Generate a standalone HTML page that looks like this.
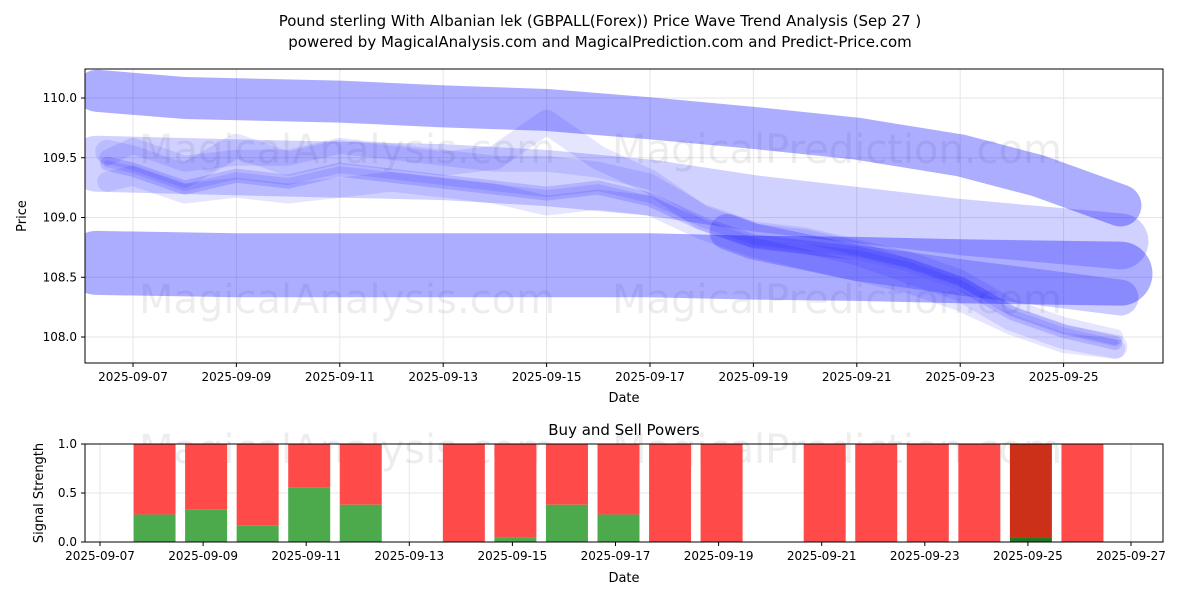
<!DOCTYPE html>
<html><head><meta charset="utf-8"><style>
body{margin:0;background:#fff;font-family:"Liberation Sans","DejaVu Sans",sans-serif}
svg text{font-family:"DejaVu Sans","Liberation Sans",sans-serif}
</style></head><body>
<svg id="c" width="1200" height="600" viewBox="0 0 1200 600">
<defs><clipPath id="clipTop"><rect x="85" y="69" width="1078" height="294"/></clipPath></defs>
<text x="600" y="26" text-anchor="middle" font-size="15">Pound sterling With Albanian lek (GBPALL(Forex)) Price Wave Trend Analysis (Sep 27 )</text>
<text x="600" y="47" text-anchor="middle" font-size="15">powered by MagicalAnalysis.com and MagicalPrediction.com and Predict-Price.com</text>
<g id="topg"></g><g id="botg"></g>
</svg>
<script>
// ---- data ----
const bandA_days=[6.3,8,11,13,15,17,19,21,23,24.5,26.1];
const bandA_prices=[110.06,110.0,109.97,109.93,109.9,109.83,109.75,109.66,109.52,109.35,109.1];
const bandB_days=[6.3,9,11,13,15,17,19,21,23,26.1];
const bandB_prices=[108.62,108.6,108.6,108.6,108.6,108.6,108.58,108.57,108.55,108.53];
const bandC_days=[18.5,19,21,23,26.1];
const bandC_prices=[108.88,108.8,108.62,108.5,108.33];
const bandD_days=[6.3,9,11,13,15,17,19,21,23,26.1];
const bandD_prices=[109.45,109.42,109.4,109.38,109.33,109.25,109.12,109.02,108.92,108.8];
const core_days=[6.5,7,8,9,10,11,12,13,14,15,16,17,18,19,20,21,22,23,24,25,26];
const core1=[109.45,109.4,109.25,109.35,109.3,109.4,109.35,109.3,109.25,109.2,109.25,109.15,108.95,108.8,108.75,108.7,108.6,108.45,108.2,108.05,107.95];
const core2=[109.55,109.5,109.35,109.6,109.45,109.55,109.5,109.45,109.5,109.8,109.5,109.3,109.0,108.85,108.8,108.7,108.55,108.4,108.15,108.0,107.92];
const core3=[109.3,109.35,109.2,109.25,109.2,109.25,109.3,109.25,109.2,109.1,109.15,109.1,108.9,108.75,108.65,108.55,108.45,108.3,108.1,107.95,107.9];
const core4=[109.5,109.6,109.45,109.5,109.5,109.6,109.55,109.5,109.45,109.45,109.4,109.3,109.05,108.9,108.85,108.75,108.65,108.5,108.25,108.1,108.0];
const yTicks=[108.0,108.5,109.0,109.5,110.0];
const xTickDays=[7,9,11,13,15,17,19,21,23,25];
const barDays=[8,9,10,11,12,14,15,16,17,18,19,21,22,23,24,25,26];
const buyVals=[0.28,0.33,0.17,0.56,0.38,0,0.05,0.38,0.28,0,0,0,0,0,0,0.05,0];
const botTickDays=[7,9,11,13,15,17,19,21,23,25,27];
const sTicks=[0,0.5,1.0];
// ---- helpers ----
const NS="http://www.w3.org/2000/svg";
function mk(p,t,a){const e=document.createElementNS(NS,t);for(const k in a)e.setAttribute(k,a[k]);p.appendChild(e);return e;}
const dstr=d=>"2025-09-"+String(d).padStart(2,"0");
const T={l:85,r:1163,t:69,b:363};
const tx=d=>133+(d-7)*51.7;
const ty=p=>337-(p-108)*119.5;
const topG=document.getElementById('topg');
mk(topG,'rect',{x:T.l,y:T.t,width:T.r-T.l,height:T.b-T.t,fill:'#fff'});
yTicks.forEach(v=>{const l=mk(topG,'line',{x1:T.l,x2:T.r,y1:ty(v),y2:ty(v),stroke:'#e6e6e6'});
});
xTickDays.forEach(d=>{const l=mk(topG,'line',{x1:tx(d),x2:tx(d),y1:T.t,y2:T.b,stroke:'#e6e6e6'});
});
function wm(g,x,y,s,t){const e=mk(g,'text',{x:x,y:y,'font-size':s,fill:'#000','fill-opacity':0.07,'text-anchor':'middle'});e.textContent=t;
}
wm(topG,347,163,40,'MagicalAnalysis.com');wm(topG,837,163,40,'MagicalPrediction.com');
wm(topG,347,313,40,'MagicalAnalysis.com');wm(topG,837,313,40,'MagicalPrediction.com');
const waves=mk(topG,'g',{'clip-path':'url(#clipTop)'});
function band(days,prices,w,op,name){const pts=days.map((d,i)=>tx(d)+','+ty(prices[i])).join(' ');
const e=mk(waves,'polyline',{points:pts,fill:'none',stroke:'#0000ff','stroke-opacity':op,'stroke-width':w,'stroke-linecap':'round','stroke-linejoin':'round'});
}
band(bandA_days,bandA_prices,42,0.32,'wave-band-upper');
band(bandB_days,bandB_prices,64,0.32,'wave-band-lower');
band(bandC_days,bandC_prices,36,0.2,'wave-band-lower-2');
band(bandD_days,bandD_prices,56,0.18,'wave-band-mid');
band(core_days,core2,24,0.1,'wave-core-2');
band(core_days,core3,20,0.1,'wave-core-3');
band(core_days,core4,16,0.1,'wave-core-4');
band(core_days,core1,14,0.14,'wave-core-1');
band(core_days,core1,7,0.1,'wave-core-1-inner');
mk(topG,'rect',{x:T.l,y:T.t,width:T.r-T.l,height:T.b-T.t,fill:'none',stroke:'#000'});
yTicks.forEach(v=>{mk(topG,'line',{x1:T.l-4,x2:T.l,y1:ty(v),y2:ty(v),stroke:'#000'});
const e=mk(topG,'text',{x:T.l-8,y:ty(v)+4,'font-size':12,'text-anchor':'end'});e.textContent=v.toFixed(1);
});
xTickDays.forEach(d=>{mk(topG,'line',{x1:tx(d),x2:tx(d),y1:T.b,y2:T.b+4,stroke:'#000'});
const e=mk(topG,'text',{x:tx(d),y:T.b+18,'font-size':12,'text-anchor':'middle'});e.textContent=dstr(d);
});
let e=mk(topG,'text',{x:624,y:402,'font-size':13,'text-anchor':'middle'});e.textContent='Date';

e=mk(topG,'text',{x:26,y:216,'font-size':13,'text-anchor':'middle',transform:'rotate(-90 26 216)'});e.textContent='Price';

const B={l:85,r:1163,t:444,b:542};
const bx=d=>100+(d-7)*51.55;
const by=v=>542-v*98;
const botG=document.getElementById('botg');
e=mk(botG,'text',{x:624,y:435,'font-size':15,'text-anchor':'middle'});e.textContent='Buy and Sell Powers';

sTicks.forEach(v=>{const l=mk(botG,'line',{x1:B.l,x2:B.r,y1:by(v),y2:by(v),stroke:'#e6e6e6'});
});
botTickDays.forEach(d=>{const l=mk(botG,'line',{x1:bx(d),x2:bx(d),y1:B.t,y2:B.b,stroke:'#e6e6e6'});
});
wm(botG,347,463,40,'MagicalAnalysis.com');wm(botG,837,463,40,'MagicalPrediction.com');
barDays.forEach((d,i)=>{const x=bx(d)-18,v=buyVals[i];
const dark=(d===25);
const r=mk(botG,'rect',{x:x,y:by(1),width:42,height:by(v)-by(1),fill:dark?'#cc3019':'#ff4a4a'});

if(v>0){const g=mk(botG,'rect',{x:x,y:by(v),width:42,height:by(0)-by(v),fill:dark?'#1f7a1f':'#4caa4c'});
}});
mk(botG,'rect',{x:B.l,y:B.t,width:B.r-B.l,height:B.b-B.t,fill:'none',stroke:'#000'});
sTicks.forEach(v=>{mk(botG,'line',{x1:B.l-4,x2:B.l,y1:by(v),y2:by(v),stroke:'#000'});
const t=mk(botG,'text',{x:B.l-8,y:by(v)+4,'font-size':12,'text-anchor':'end'});t.textContent=v.toFixed(1);
});
botTickDays.forEach(d=>{mk(botG,'line',{x1:bx(d),x2:bx(d),y1:B.b,y2:B.b+4,stroke:'#000'});
const t=mk(botG,'text',{x:bx(d),y:B.b+18,'font-size':12,'text-anchor':'middle'});t.textContent=dstr(d);
});
e=mk(botG,'text',{x:624,y:582,'font-size':13,'text-anchor':'middle'});e.textContent='Date';

e=mk(botG,'text',{x:43,y:493,'font-size':13,'text-anchor':'middle',transform:'rotate(-90 43 493)'});e.textContent='Signal Strength';

</script>
</body></html>
